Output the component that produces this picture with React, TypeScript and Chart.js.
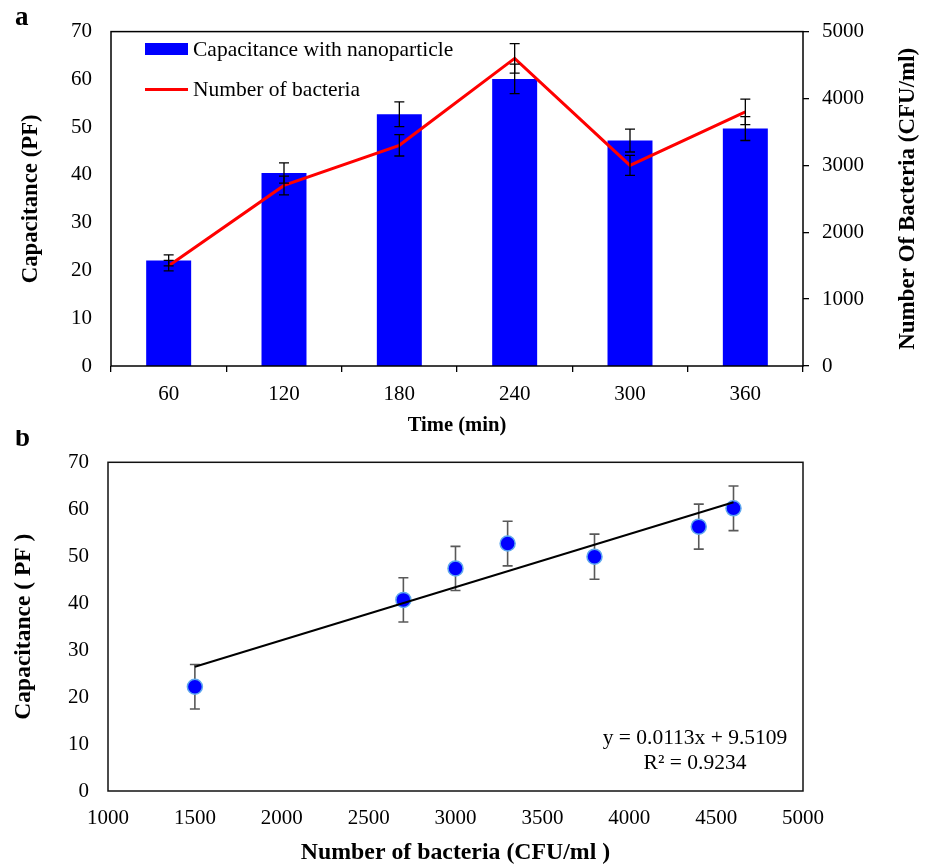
import React, { useEffect, useRef } from 'react';
import { Chart, registerables } from 'chart.js';

Chart.register(...registerables);

// ---------- Panel a data ----------
const timeLabels = ['60', '120', '180', '240', '300', '360'];
const capacitance = [22.1, 40.4, 52.7, 60.1, 47.2, 49.7];
const capacitanceErr = [1.15, 2.1, 2.6, 3.1, 2.4, 2.5];
const bacteria = [1500, 2700, 3300, 4600, 3000, 3800];
const bacteriaErr = [78, 140, 160, 220, 150, 190];

// ---------- Panel b data ----------
const scatterX = [1500, 2700, 3000, 3300, 3800, 4400, 4600];
const scatterY = [22.2, 40.7, 47.4, 52.7, 49.9, 56.3, 60.2];
const scatterErr = [4.75, 4.7, 4.7, 4.75, 4.8, 4.8, 4.75];
const trendX = [1500, 4600];
const trendY = [26.46, 61.49];
const equationLines = ['y = 0.0113x + 9.5109', 'R² = 0.9234'];

const SERIF = "'Liberation Serif', 'Times New Roman', serif";
const plainTick = (v: any) => String(v);

function errBar(ctx: CanvasRenderingContext2D, x: number, yTop: number, yBot: number, hw: number) {
  ctx.beginPath();
  ctx.moveTo(x, yTop);
  ctx.lineTo(x, yBot);
  ctx.moveTo(x - hw, yTop);
  ctx.lineTo(x + hw, yTop);
  ctx.moveTo(x - hw, yBot);
  ctx.lineTo(x + hw, yBot);
  ctx.stroke();
}

export default function App() {
  const refA = useRef<HTMLCanvasElement | null>(null);
  const refB = useRef<HTMLCanvasElement | null>(null);

  useEffect(() => {
    const panelAPlugin = {
      id: 'panelA',
      afterDatasetsDraw(chart: any) {
        const { ctx } = chart;
        const y = chart.scales.y;
        const y1 = chart.scales.y1;
        const barMeta = chart.getDatasetMeta(0);
        const lineMeta = chart.getDatasetMeta(1);
        ctx.save();
        ctx.strokeStyle = '#000';
        ctx.lineWidth = 1.3;
        capacitance.forEach((v, i) => {
          const px = barMeta.data[i].x;
          errBar(ctx, px, y.getPixelForValue(v + capacitanceErr[i]), y.getPixelForValue(v - capacitanceErr[i]), 5);
        });
        bacteria.forEach((v, i) => {
          const px = lineMeta.data[i].x;
          errBar(ctx, px, y1.getPixelForValue(v + bacteriaErr[i]), y1.getPixelForValue(v - bacteriaErr[i]), 5);
        });
        ctx.restore();
      },
      afterDraw(chart: any) {
        const { ctx, chartArea: ca } = chart;
        ctx.save();
        // frame
        ctx.strokeStyle = '#000';
        ctx.lineWidth = 1.5;
        ctx.strokeRect(ca.left, ca.top, ca.right - ca.left, ca.bottom - ca.top);
        // legend
        const ds = chart.data.datasets;
        ctx.fillStyle = ds[0].backgroundColor;
        ctx.fillRect(145, 43, 43, 12);
        ctx.strokeStyle = ds[1].borderColor;
        ctx.lineWidth = 3;
        ctx.beginPath();
        ctx.moveTo(145, 89.5);
        ctx.lineTo(188, 89.5);
        ctx.stroke();
        ctx.fillStyle = '#000';
        ctx.font = `21.5px ${SERIF}`;
        ctx.textBaseline = 'middle';
        ctx.textAlign = 'left';
        ctx.fillText(ds[0].label, 193, 50);
        ctx.fillText(ds[1].label, 193, 90);
        // panel letter
        ctx.font = `bold 27px ${SERIF}`;
        ctx.textBaseline = 'alphabetic';
        ctx.fillText('a', 15, 25);
        // right axis title (reads bottom-to-top)
        ctx.translate(908, (ca.top + ca.bottom) / 2);
        ctx.rotate(-Math.PI / 2);
        ctx.textAlign = 'center';
        ctx.textBaseline = 'middle';
        ctx.font = `bold 23px ${SERIF}`;
        ctx.fillText('Number Of Bacteria (CFU/ml)', 0, 0);
        ctx.restore();
      },
    };

    const chartA = new Chart(refA.current as HTMLCanvasElement, {
      type: 'bar',
      data: {
        labels: timeLabels,
        datasets: [
          {
            type: 'bar',
            label: 'Capacitance with nanoparticle',
            data: capacitance,
            backgroundColor: '#0000ff',
            borderWidth: 0,
            yAxisID: 'y',
            categoryPercentage: 1,
            barPercentage: 0.39,
            order: 2,
          },
          {
            type: 'line',
            label: 'Number of bacteria',
            data: bacteria,
            borderColor: '#ff0000',
            backgroundColor: '#ff0000',
            borderWidth: 3,
            pointRadius: 0,
            tension: 0,
            yAxisID: 'y1',
            order: 1,
          },
        ] as any,
      },
      options: {
        responsive: false,
        animation: false,
        layout: { padding: { top: 25, left: 0, right: 0, bottom: 0 } },
        plugins: { legend: { display: false }, tooltip: { enabled: false } },
        scales: {
          x: {
            grid: { drawOnChartArea: false, tickLength: 6, color: '#000', lineWidth: 1.3, offset: true },
            border: { display: false },
            ticks: { color: '#000', font: { family: SERIF, size: 21 }, padding: 10 },
            title: {
              display: true,
              text: 'Time (min)',
              color: '#000',
              font: { family: SERIF, size: 20.6, weight: 'bold', lineHeight: 1 },
              padding: { top: 0, bottom: 4 },
            },
            afterFit: (s: any) => { s.height = 74; },
          },
          y: {
            position: 'left',
            min: 0,
            max: 70,
            grid: { display: false, drawTicks: false, tickLength: 0 },
            border: { display: false },
            ticks: { stepSize: 10, color: '#000', font: { family: SERIF, size: 21 }, padding: 19, callback: plainTick },
            title: {
              display: true,
              text: 'Capacitance (PF)',
              color: '#000',
              font: { family: SERIF, size: 22.8, weight: 'bold', lineHeight: 1 },
              padding: { top: 19.6, bottom: 0 },
            },
            afterFit: (s: any) => { s.width = 111; },
          },
          y1: {
            position: 'right',
            min: 0,
            max: 5000,
            grid: { drawOnChartArea: false, tickLength: 6, color: '#000', lineWidth: 1.3 },
            border: { display: false },
            ticks: { stepSize: 1000, color: '#000', font: { family: SERIF, size: 21 }, padding: 13, callback: plainTick },
            afterFit: (s: any) => { s.width = 127; },
          },
        } as any,
      },
      plugins: [panelAPlugin],
    });

    const panelBPlugin = {
      id: 'panelB',
      beforeDatasetsDraw(chart: any) {
        const { ctx } = chart;
        const x = chart.scales.x;
        const y = chart.scales.y;
        ctx.save();
        ctx.strokeStyle = '#595959';
        ctx.lineWidth = 1.6;
        scatterX.forEach((xv, i) => {
          const yv = scatterY[i];
          errBar(ctx, x.getPixelForValue(xv), y.getPixelForValue(yv + scatterErr[i]), y.getPixelForValue(yv - scatterErr[i]), 5);
        });
        ctx.restore();
      },
      afterDraw(chart: any) {
        const { ctx, chartArea: ca } = chart;
        ctx.save();
        ctx.strokeStyle = '#111';
        ctx.lineWidth = 1.5;
        ctx.strokeRect(ca.left, ca.top, ca.right - ca.left, ca.bottom - ca.top);
        ctx.fillStyle = '#000';
        ctx.font = `21.5px ${SERIF}`;
        ctx.textAlign = 'center';
        ctx.textBaseline = 'middle';
        ctx.fillText(equationLines[0], 695, 308);
        ctx.fillText(equationLines[1], 695, 333.5);
        ctx.font = `bold 27px ${SERIF}`;
        ctx.textAlign = 'left';
        ctx.textBaseline = 'alphabetic';
        ctx.fillText('b', 15, 16);
        ctx.restore();
      },
    };

    const chartB = new Chart(refB.current as HTMLCanvasElement, {
      type: 'scatter',
      data: {
        datasets: [
          {
            type: 'line',
            label: 'Trend',
            data: trendX.map((xv, i) => ({ x: xv, y: trendY[i] })),
            borderColor: '#000',
            borderWidth: 2,
            pointRadius: 0,
            fill: false,
            order: 1,
          },
          {
            type: 'scatter',
            label: 'Capacitance',
            data: scatterX.map((xv, i) => ({ x: xv, y: scatterY[i] })),
            backgroundColor: '#0000ff',
            borderColor: '#5fa8ee',
            borderWidth: 1.5,
            pointRadius: 7.5,
            order: 2,
          },
        ] as any,
      },
      options: {
        responsive: false,
        animation: false,
        layout: { padding: { top: 32.3, left: 0, right: 127, bottom: 0 } },
        plugins: { legend: { display: false }, tooltip: { enabled: false } },
        scales: {
          x: {
            type: 'linear',
            min: 1000,
            max: 5000,
            grid: { display: false, drawTicks: false, tickLength: 0 },
            border: { display: false },
            ticks: { stepSize: 500, color: '#000', font: { family: SERIF, size: 21 }, padding: 15, callback: plainTick },
            title: {
              display: true,
              text: 'Number of bacteria (CFU/ml )',
              color: '#000',
              font: { family: SERIF, size: 23.8, weight: 'bold', lineHeight: 1 },
              padding: { top: 0, bottom: 0.8 },
            },
            afterFit: (s: any) => { s.height = 75; },
          },
          y: {
            min: 0,
            max: 70,
            grid: { display: false, drawTicks: false, tickLength: 0 },
            border: { display: false },
            ticks: { stepSize: 10, color: '#000', font: { family: SERIF, size: 21 }, padding: 19, callback: plainTick },
            title: {
              display: true,
              text: 'Capacitance ( PF )',
              color: '#000',
              font: { family: SERIF, size: 23.5, weight: 'bold', lineHeight: 1 },
              padding: { top: 12, bottom: 0 },
            },
            afterFit: (s: any) => { s.width = 108; },
          },
        } as any,
      },
      plugins: [panelBPlugin],
    });

    return () => {
      chartA.destroy();
      chartB.destroy();
    };
  }, []);

  return (
    <div style={{ position: 'absolute', left: 0, top: 0, width: 930, height: 866, background: '#fff', overflow: 'hidden' }}>
      <canvas ref={refA} width={930} height={440} style={{ position: 'absolute', left: 0, top: 0, width: 930, height: 440 }} />
      <canvas ref={refB} width={930} height={436} style={{ position: 'absolute', left: 0, top: 430, width: 930, height: 436 }} />
    </div>
  );
}
